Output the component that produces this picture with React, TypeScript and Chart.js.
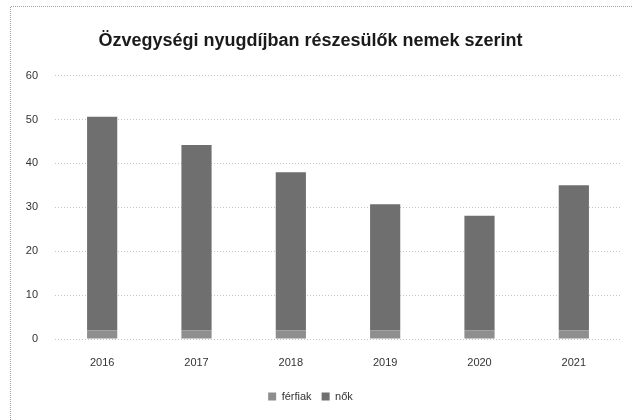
import React, { useEffect, useRef } from "react";
import { Chart, registerables } from "chart.js";

Chart.register(...registerables);

const categories = ["2016", "2017", "2018", "2019", "2020", "2021"];
const menValues = [2, 2, 2, 2, 2, 2];
const womenValues = [48.6, 42.2, 36, 28.7, 26.1, 33];
const yTicks = [0, 10, 20, 30, 40, 50, 60];
const titleText = "Özvegységi nyugdíjban részesülők nemek szerint";
const seriesNames = ["férfiak", "nők"];

const borderPlugin = {
  id: "outerBorder",
  beforeDraw(chart: any) {
    const ctx = chart.ctx;
    ctx.save();
    ctx.strokeStyle = "#a0a0a0";
    ctx.lineWidth = 1;
    ctx.setLineDash([1, 1]);
    ctx.beginPath();
    ctx.moveTo(10.5, 420);
    ctx.lineTo(10.5, 6.5);
    ctx.lineTo(632, 6.5);
    ctx.stroke();
    ctx.restore();
  },
};

export default function App() {
  const ref = useRef<HTMLCanvasElement | null>(null);
  useEffect(() => {
    if (!ref.current) return;
    const chart = new Chart(ref.current, {
      type: "bar",
      data: {
        labels: categories,
        datasets: [
          {
            label: seriesNames[0],
            data: menValues,
            backgroundColor: "#8e8e8e",
            barPercentage: 0.32,
            categoryPercentage: 1,
          },
          {
            label: seriesNames[1],
            data: womenValues,
            backgroundColor: "#6f6f6f",
            barPercentage: 0.32,
            categoryPercentage: 1,
          },
        ],
      },
      options: {
        animation: false,
        responsive: false,
        maintainAspectRatio: false,
        layout: { padding: { top: 20, right: 11, bottom: 8, left: 0 } },
        plugins: {
          title: {
            display: true,
            text: titleText,
            color: "#1a1a1a",
            font: { family: "Liberation Sans", size: 18, weight: "bold" },
            padding: { top: 10, bottom: 24 },
          },
          legend: {
            position: "bottom",
            labels: {
              boxWidth: 8,
              boxHeight: 8,
              color: "#333",
              font: { family: "Liberation Sans", size: 11 },
              padding: 10,
            },
          },
          tooltip: { enabled: false },
        },
        scales: {
          x: {
            stacked: true,
            grid: { display: false },
            border: { display: false },
            ticks: {
              color: "#333",
              font: { family: "Liberation Sans", size: 11 },
              padding: 9,
            },
            afterFit(scale: any) {
              scale.height = 42;
            },
          },
          y: {
            stacked: true,
            min: 0,
            max: 60,
            afterBuildTicks(scale: any) {
              scale.ticks = yTicks.map((v) => ({ value: v }));
            },
            grid: {
              color: "#c4c4c4",
              drawTicks: false,
              lineWidth: 1,
            },
            border: { display: false, dash: [1, 2] },
            ticks: {
              color: "#333",
              font: { family: "Liberation Sans", size: 11 },
              padding: 17,
            },
            afterFit(scale: any) {
              scale.width = 55;
            },
          },
        },
      },
      plugins: [borderPlugin],
    });
    return () => chart.destroy();
  }, []);
  return (
    <div style={{ position: "fixed", left: 0, top: 0, width: 632, height: 420, background: "#fff" }}>
      <canvas ref={ref} width={632} height={420} style={{ width: 632, height: 420 }} />
    </div>
  );
}
